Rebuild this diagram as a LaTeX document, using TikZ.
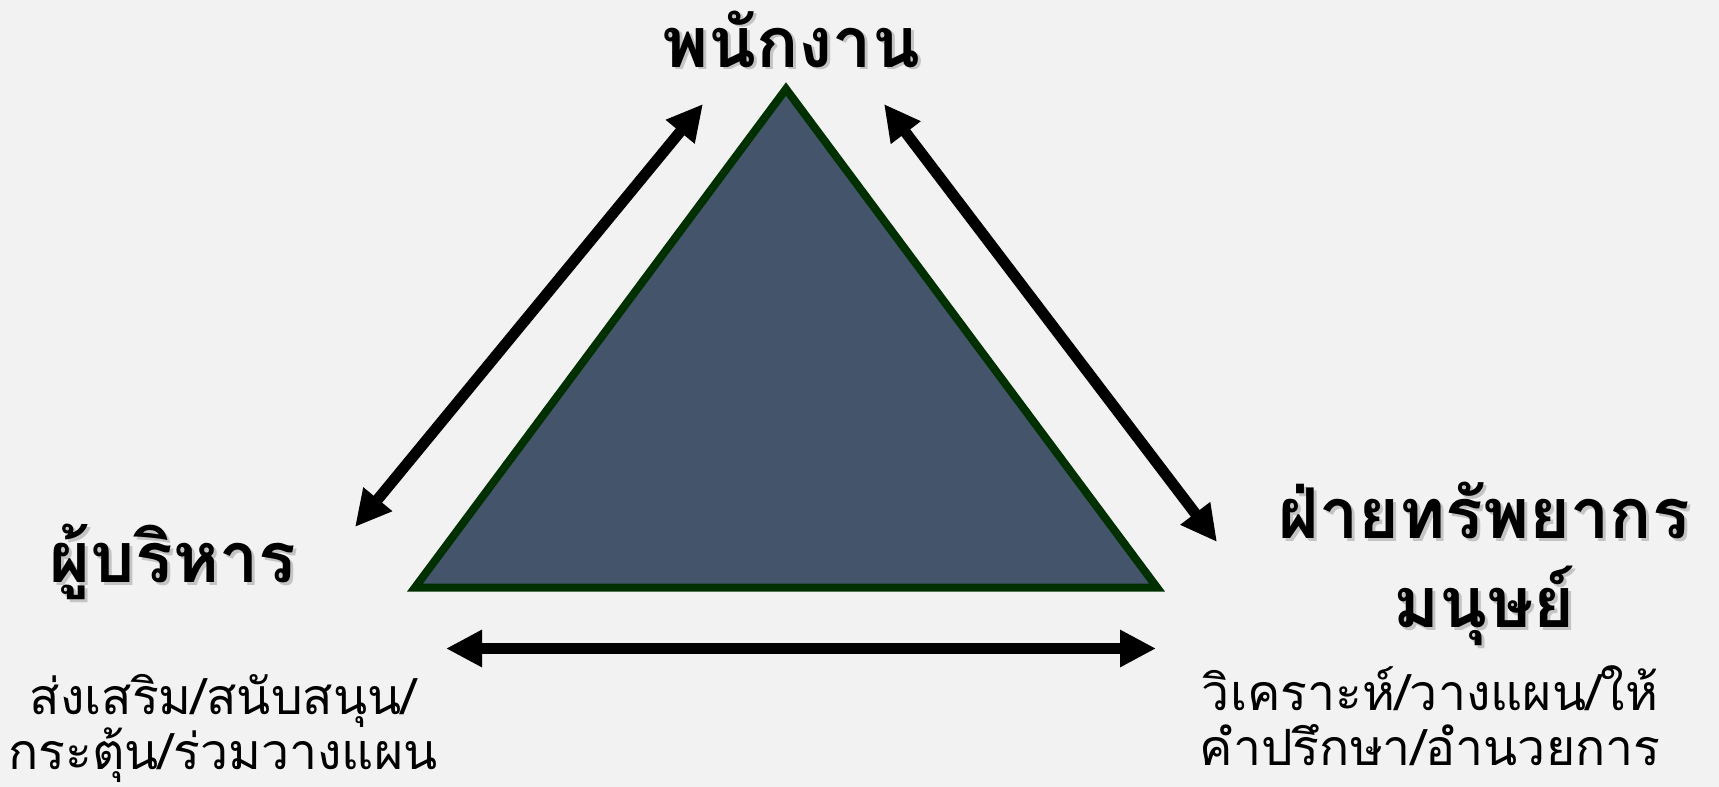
\documentclass[tikz,border=0pt]{standalone}
\usepackage{fontspec}
\newfontfamily\thaifont[Script=Thai]{Loma}
\usepackage{tikz}
\usetikzlibrary{arrows.meta, positioning, calc}
\usepackage{xcolor}
\definecolor{bggray}{HTML}{F2F2F2}
\definecolor{slate}{HTML}{44546A}
\definecolor{darkgreen}{HTML}{003000}
\definecolor{shadowgray}{HTML}{C4C4C4}
\newcommand{\shadowed}[1]{\makebox[0pt][l]{\kern1.5pt\raisebox{-1.5pt}{\textcolor{shadowgray}{#1}}}#1}

\begin{document}
\begin{tikzpicture}[
    x=0.5pt, y=-0.5pt,
    title/.style={font=\thaifont\bfseries\fontsize{35}{44.5}\selectfont, align=center, anchor=base},
    task/.style={font=\thaifont\fontsize{25}{27.5}\selectfont, align=center, anchor=base},
    arrow/.style={{Triangle[length=18pt, width=17.5pt]}-{Triangle[length=18pt, width=17.5pt]}, line width=5.5pt}
]
    \fill[bggray] (0,0) rectangle (1719,787);
    \useasboundingbox (0,0) rectangle (1719,787);

    \coordinate (apex) at (786,89);
    \coordinate (left) at (415,587.5);
    \coordinate (right) at (1157,587.5);
    \filldraw[fill=slate, draw=darkgreen, line width=4pt, line join=miter] (apex) -- (left) -- (right) -- cycle;

    \node[title] (staff) at (791,67) {\shadowed{พนักงาน}};
    \node[title] (mgr) at (173,582) {\shadowed{ผู้บริหาร}};
    \node[title] (hr) at (1484,627) {\shadowed{ฝ่ายทรัพยากร}\\\shadowed{มนุษย์}};
    \node[task] (mgrtask) at (223,769) {ส่งเสริม/สนับสนุน/\\กระตุ้น/ร่วมวางแผน};
    \node[task] (hrtask) at (1430,765) {วิเคราะห์/วางแผน/ให้\\คำปรึกษา/อำนวยการ};

    \coordinate (la) at (355,527);
    \coordinate (lb) at (703,104);
    \coordinate (ra) at (884,104);
    \coordinate (rb) at (1217,542);
    \coordinate (ba) at (446,648.5);
    \coordinate (bb) at (1156,648.5);
    \draw[arrow] (la) -- (lb);
    \draw[arrow] (ra) -- (rb);
    \draw[arrow] (ba) -- (bb);
\end{tikzpicture}
\end{document}
